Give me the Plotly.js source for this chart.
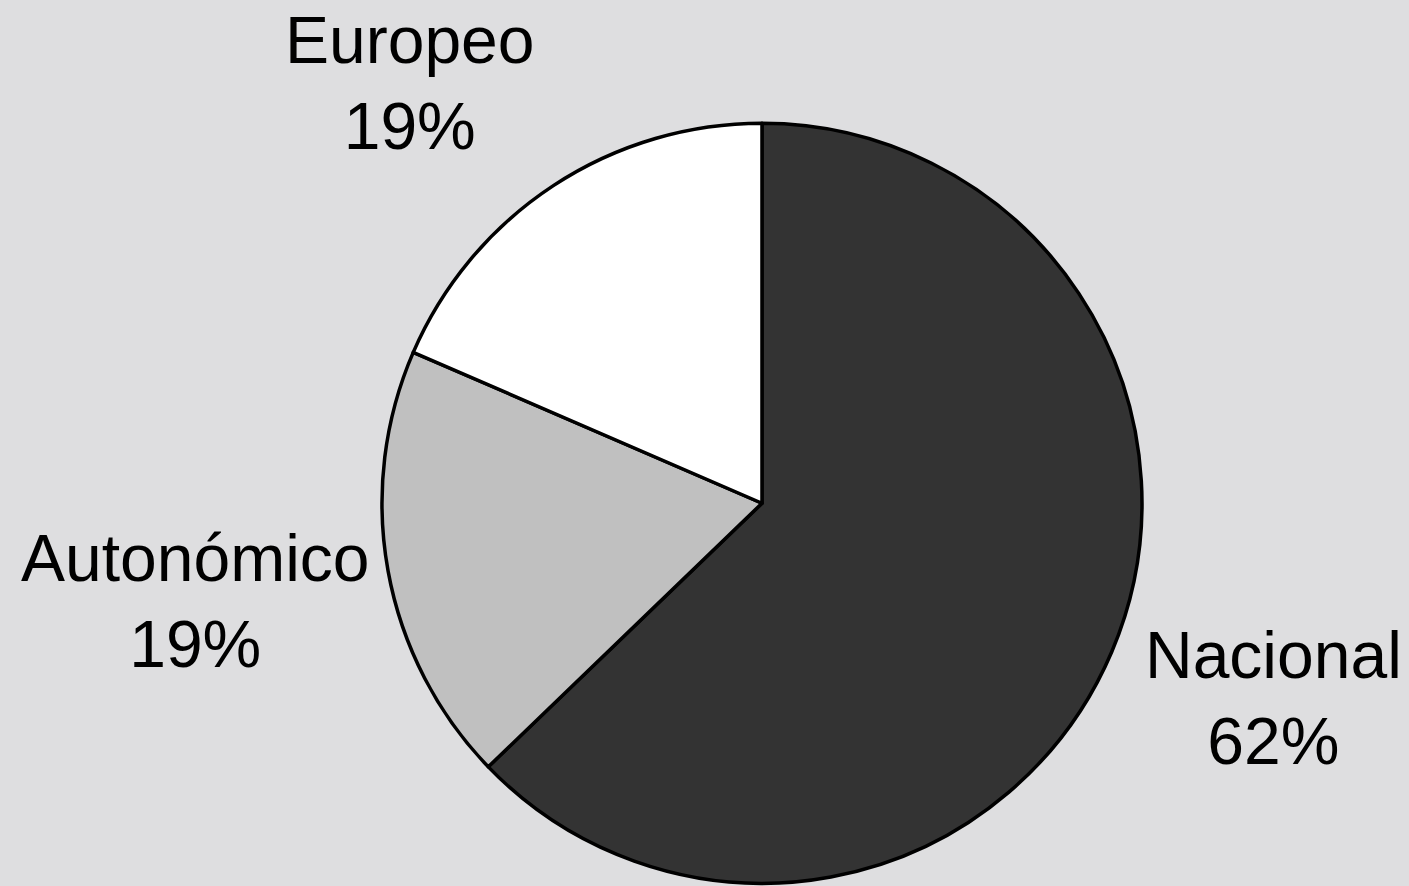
<!DOCTYPE html>
<html>
<head>
<meta charset="utf-8">
<script src="https://cdn.plot.ly/plotly-3.0.1.min.js"></script>
<style>html,body{margin:0;padding:0;background:#DEDEE0;}#chart{width:1409px;height:886px;}</style>
</head>
<body>
<div id="chart"></div>
<script>
const categories = ['Nacional', 'Autonómico', 'Europeo'];
const values = [62.8, 18.7, 18.5];
const pctLabels = ['62%', '19%', '19%'];
const sliceColors = ['#333333', '#C0C0C0', '#FFFFFF'];

const labelPos = [
  {x: 0.9035, y: 0.2117},
  {x: 0.1384, y: 0.3216},
  {x: 0.2910, y: 0.9065}
];

const trace = {
  type: 'pie',
  labels: categories,
  values: values,
  sort: false,
  direction: 'clockwise',
  rotation: 0,
  textinfo: 'none',
  hoverinfo: 'label+percent',
  marker: {colors: sliceColors, line: {color: '#000000', width: 3.5}},
  domain: {x: [0.2711, 0.8105], y: [0.0031, 0.8609]},
  showlegend: false
};

const annotations = categories.map((c, i) => ({
  xref: 'paper', yref: 'paper',
  x: labelPos[i].x, y: labelPos[i].y,
  xanchor: 'center', yanchor: 'middle',
  text: c + '<br>' + pctLabels[i],
  showarrow: false,
  align: 'center',
  font: {family: 'Liberation Sans, Arial, sans-serif', size: 66, color: '#000000'}
}));

const layout = {
  width: 1409, height: 886,
  margin: {l: 0, r: 0, t: 0, b: 0},
  paper_bgcolor: '#DEDEE0',
  plot_bgcolor: '#DEDEE0',
  annotations: annotations,
  showlegend: false
};

Plotly.newPlot('chart', [trace], layout, {displayModeBar: false, staticPlot: true});
</script>
</body>
</html>
